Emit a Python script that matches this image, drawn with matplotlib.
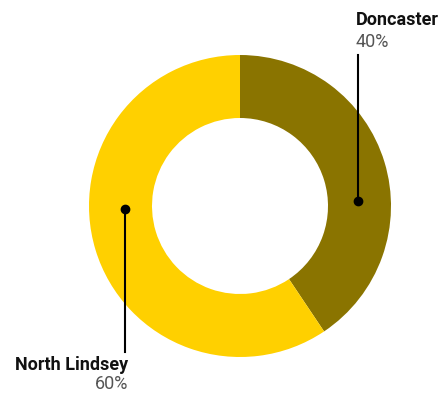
import matplotlib.pyplot as plt

labels = ["Doncaster", "North Lindsey"]
values = [40.6, 59.4]
pct_labels = ["40%", "60%"]
colors = ["#8a7400", "#ffd000"]

W, H = 444, 394
fig = plt.figure(figsize=(W / 100, H / 100), dpi=100)
ax = fig.add_axes([0, 0, 1, 1])

cx, cy, r = 240, H - 206, 151
ax.pie(values, colors=colors, startangle=90, counterclock=False,
       center=(cx, cy), radius=r, frame=True,
       wedgeprops=dict(width=r - 88, linewidth=0))
ax.set_xlim(0, W)
ax.set_ylim(0, H)
ax.set_aspect("equal")
ax.axis("off")

font = "Roboto"
fs = 13

# Doncaster callout
ax.plot([358, 358], [H - 201, H - 55], color="black", lw=1.5)
ax.plot(358, H - 201, "o", color="black", ms=6)
ax.text(356, H - 20, labels[0], fontsize=fs, fontweight="bold",
        family=font, ha="left", va="center", color="#111111")
ax.text(356, H - 42, pct_labels[0], fontsize=fs, family=font,
        ha="left", va="center", color="#555555")

# North Lindsey callout
ax.plot([125, 125], [H - 209, H - 352], color="black", lw=1.5)
ax.plot(125, H - 209, "o", color="black", ms=6)
ax.text(128, H - 365, labels[1], fontsize=fs, fontweight="bold",
        family=font, ha="right", va="center", color="#111111")
ax.text(128, H - 384, pct_labels[1], fontsize=fs, family=font,
        ha="right", va="center", color="#555555")

fig.savefig("out.png", dpi=100)
